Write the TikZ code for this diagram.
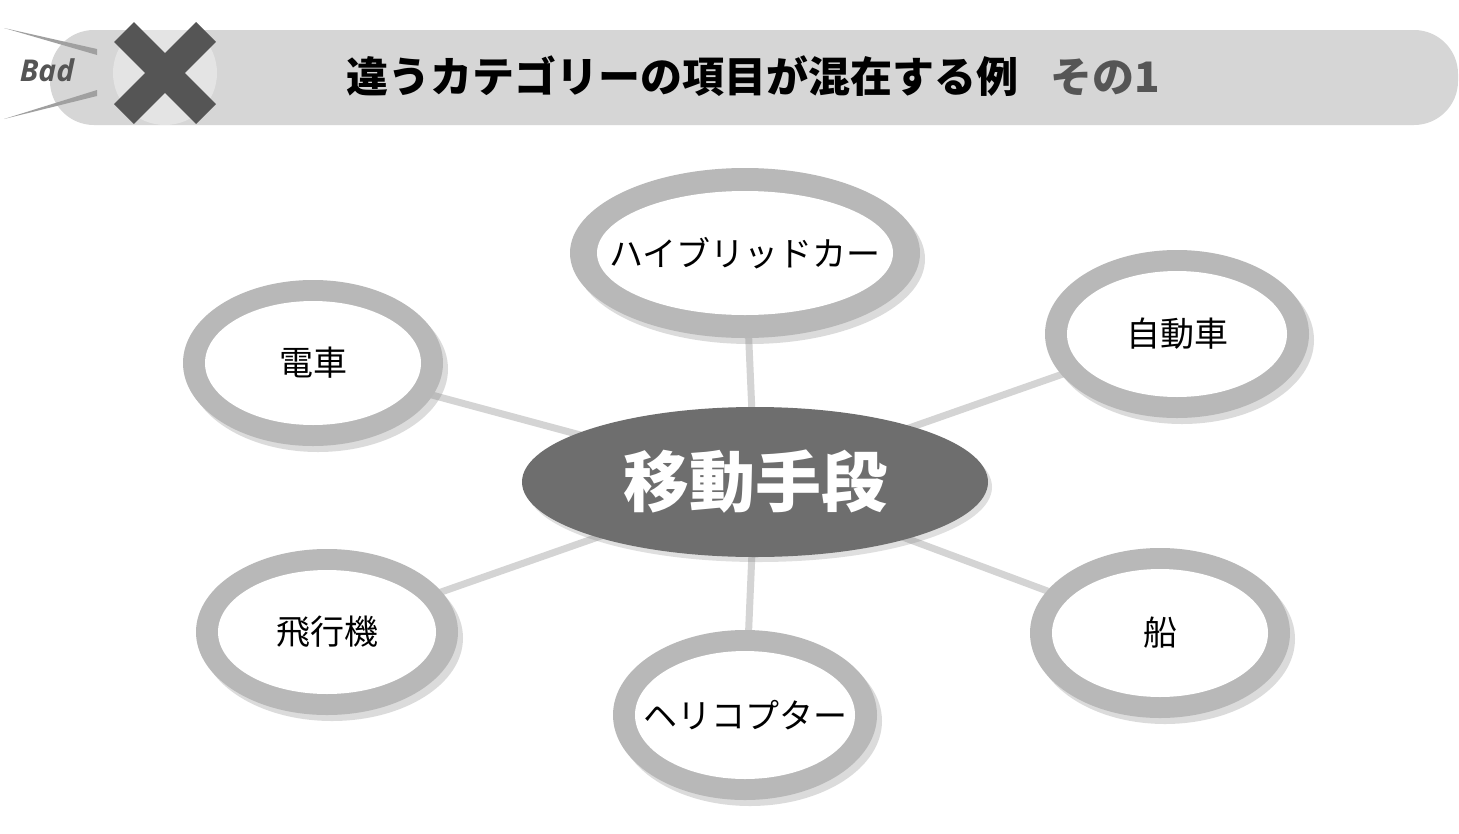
\documentclass[tikz,border=0pt]{standalone}
\usepackage{fontspec}
\setmainfont{Noto Sans CJK JP}
\newfontfamily\badfont{Open Sans}
\usetikzlibrary{shapes.geometric,shadows,backgrounds}
\definecolor{ringgray}{HTML}{B8B8B8}
\definecolor{linkgray}{HTML}{D4D4D4}
\definecolor{hubgray}{HTML}{6E6E6E}
\definecolor{bargray}{HTML}{D6D6D6}
\definecolor{xgray}{HTML}{555555}
\definecolor{streak}{HTML}{A0A0A0}
\newcommand{\zw}[1]{\makebox[0pt][c]{#1}}
\begin{document}
\begin{tikzpicture}[x=1pt,y=-1pt,
  outerring/.style={ellipse, fill=ringgray, inner sep=0pt,
    drop shadow={shadow xshift=5pt, shadow yshift=-6pt, opacity=0.28}},
  innerwhite/.style={ellipse, fill=white, inner sep=0pt, font=\fontsize{34}{40}\selectfont},
  linkline/.style={draw=linkgray, line width=7pt},
  hubnode/.style={ellipse, fill=hubgray, inner sep=0pt, text=white,
    font=\fontsize{66}{70}\selectfont\bfseries,
    drop shadow={shadow xshift=4pt, shadow yshift=-5pt, opacity=0.25}},
  titletext/.style={font=\fontsize{42}{46}\selectfont\bfseries, inner sep=0pt},
  streakshape/.style={fill=streak}
]
\useasboundingbox (0,0) rectangle (1459,833);

% header bar
\fill[bargray, rounded corners=44pt] (50,30) rectangle (1458,125);
\fill[streakshape] (4,28) -- (97,49) -- (97,55) -- cycle;
\fill[streakshape] (4,119) -- (97,90) -- (97,96) -- cycle;
\node[font=\badfont\fontsize{30}{34}\selectfont\bfseries\itshape, text=xgray, inner sep=0pt] (bad) at (47,70) {Bad};
\fill[white, opacity=0.35] (165,73) circle (52pt);
\draw[xgray, line width=28pt] (124,32) -- (206,114);
\draw[xgray, line width=28pt] (206,32) -- (124,114);
\node[titletext] (title) at (753,76) {違うカテゴリーの項目が混在する例\hspace{32pt}{\color{xgray}その1}};

% hub
\node[hubnode, minimum width=466pt, minimum height=150pt] (hub) at (755,482) {\zw{移動手段}};

% satellites
\node[outerring, minimum width=350pt, minimum height=170pt] (hyb) at (745,253) {};
\node[innerwhite, minimum width=296pt, minimum height=124pt] (hybIn) at (hyb.center) {\zw{ハイブリッドカー}};

\node[outerring, minimum width=260pt, minimum height=166pt] (train) at (313,363) {};
\node[innerwhite, minimum width=216pt, minimum height=124pt] (trainIn) at (train.center) {\zw{電車}};

\node[outerring, minimum width=264pt, minimum height=168pt] (car) at (1177,334) {};
\node[innerwhite, minimum width=220pt, minimum height=126pt] (carIn) at (car.center) {\zw{自動車}};

\node[outerring, minimum width=262pt, minimum height=166pt] (plane) at (327,632) {};
\node[innerwhite, minimum width=218pt, minimum height=124pt] (planeIn) at (plane.center) {\zw{飛行機}};

\node[outerring, minimum width=260pt, minimum height=170pt] (ship) at (1160,633) {};
\node[innerwhite, minimum width=216pt, minimum height=128pt] (shipIn) at (ship.center) {\zw{船}};

\node[outerring, minimum width=264pt, minimum height=170pt] (heli) at (745,715) {};
\node[innerwhite, minimum width=220pt, minimum height=128pt] (heliIn) at (heli.center) {\zw{ヘリコプター}};

\begin{scope}[on background layer]
  \fill[white] (0,0) rectangle (1459,833);
  \foreach \n in {hyb,train,car,plane,ship,heli}
    \draw[linkline] (hub.center) -- (\n.center);
\end{scope}
\end{tikzpicture}
\end{document}
